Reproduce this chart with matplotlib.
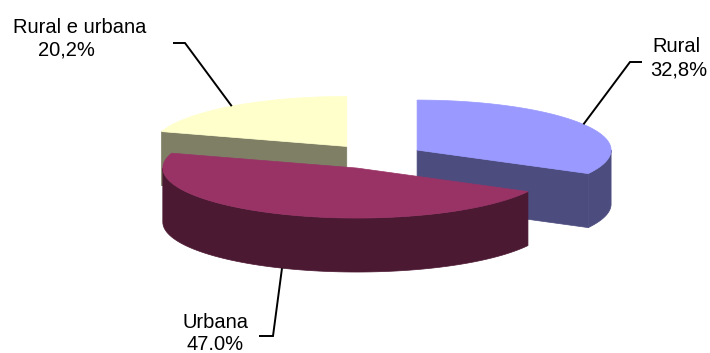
import numpy as np
import matplotlib
matplotlib.use("Agg")
import matplotlib.pyplot as plt
from matplotlib.patches import Polygon

# ---- data ----
categories = ["Rural", "Urbana", "Rural e urbana"]
values = [32.8, 47.0, 20.2]
value_labels = ["32,8%", "47.0%", "20,2%"]
top_colors = ["#9999FF", "#993366", "#FFFFCC"]
side_colors = ["#4C4C7F", "#4C1933", "#7F7F66"]

# ---- layout (pixel space) ----
W, H = 710, 353
CX, CY = 375.5, 156.5
RX, RY = 194.0, 50.0
DEPTH = 54.0
EXPLODE = 0.25
START = 90.0

plt.rcParams['font.family'] = ['Liberation Sans', 'DejaVu Sans']
FS = 14.5

fig = plt.figure(figsize=(W / 100, H / 100), dpi=100)
ax = fig.add_axes([0, 0, 1, 1])
ax.set_xlim(0, W)
ax.set_ylim(H, 0)
ax.axis('off')

# slice angles (clockwise from 12 o'clock)
total = sum(values)
slices = []
a = START
for v in values:
    span = 360.0 * v / total
    slices.append((a, a - span))
    a -= span


def apex_of(a0, a1):
    mid = np.radians((a0 + a1) / 2)
    return CX + EXPLODE * RX * np.cos(mid), CY - EXPLODE * RY * np.sin(mid)


def pt(apex, ang_deg, dz=0.0):
    t = np.radians(ang_deg)
    return apex[0] + RX * np.cos(t), apex[1] - RY * np.sin(t) + dz


def arc(apex, a_from, a_to, dz=0.0, n=80):
    angs = np.linspace(a_from, a_to, n)
    return [pt(apex, g, dz) for g in angs]


# painter's order: back slices first
order = [2, 0, 1]
anchors = {}
for i in order:
    a0, a1 = slices[i]
    apex = apex_of(a0, a1)
    top_c, side_c = top_colors[i], side_colors[i]
    # radial faces
    if np.cos(np.radians(a0)) < -1e-6:
        p = pt(apex, a0)
        poly = [apex, p, (p[0], p[1] + DEPTH), (apex[0], apex[1] + DEPTH)]
        ax.add_patch(Polygon(poly, closed=True, fc=side_c, ec=side_c, lw=0.5))
    if np.cos(np.radians(a1)) > 1e-6:
        p = pt(apex, a1)
        poly = [apex, p, (p[0], p[1] + DEPTH), (apex[0], apex[1] + DEPTH)]
        ax.add_patch(Polygon(poly, closed=True, fc=side_c, ec=side_c, lw=0.5))
    # outer wall (front half only)
    for k in (-1, 0, 1):
        lo = max(a1, -180 + 360 * k)
        hi = min(a0, 360 * k)
        if hi > lo:
            upper = arc(apex, lo, hi)
            lower = arc(apex, hi, lo, DEPTH)
            ax.add_patch(Polygon(upper + lower, closed=True, fc=side_c, ec=side_c, lw=0.5))
    # top face
    top = [apex] + arc(apex, a0, a1)
    ax.add_patch(Polygon(top, closed=True, fc=top_c, ec=top_c, lw=0.5))
    mid = (a0 + a1) / 2
    dz = DEPTH if np.sin(np.radians(mid)) < 0 else 0.0
    anchors[i] = pt(apex, mid, dz)

# ---- labels with leader lines ----
# (elbow, end of horizontal, line1 center x, line1 baseline, line2 center x, line2 baseline)
label_layout = {
    0: ((630, 62), (642, 62), 676, 52, 679, 75),
    1: ((273, 336), (259, 336), 215, 328, 215, 350),
    2: ((185, 43), (173, 43), 80, 33, 66, 55),
}
for i, (elbow, end, x1, y1, x2, y2) in label_layout.items():
    ax_, ay_ = anchors[i]
    ax.plot([ax_, elbow[0], end[0]], [ay_, elbow[1], end[1]], color='black', lw=1.4,
            solid_capstyle='butt', solid_joinstyle='miter')
    ax.text(x1, y1, categories[i], ha='center', va='baseline', fontsize=FS, color='black')
    ax.text(x2, y2, value_labels[i], ha='center', va='baseline', fontsize=FS, color='black')

fig.savefig("out.png", dpi=100)
